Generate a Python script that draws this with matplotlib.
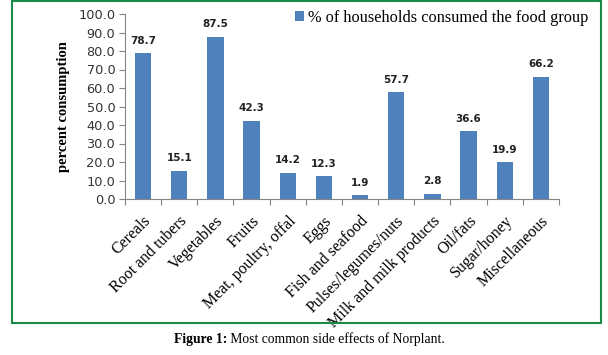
import matplotlib
matplotlib.use('Agg')
import matplotlib.pyplot as plt
import numpy as np
from matplotlib.patches import Rectangle

##### data #####
groups = ["Cereals", "Root and tubers", "Vegetables", "Fruits",
          "Meat, poultry, offal", "Eggs", "Fish and seafood",
          "Pulses/legumes/nuts", "Milk and milk products", "Oil/fats",
          "Sugar/honey", "Miscellaneous"]
pct = [78.7, 15.1, 87.5, 42.3, 14.2, 12.3, 1.9, 57.7, 2.8, 36.6, 19.9, 66.2]
series_name = "% of households consumed the food group"
y_ticks = np.arange(0, 101, 10)
##### data end #####

bar_color = '#4F81BD'
grey = '#868686'
serif = ['Liberation Serif', 'DejaVu Serif']
sans = ['DejaVu Sans']

fig = plt.figure(figsize=(6.08, 3.55), dpi=100)
ax = fig.add_axes([125 / 608, 1 - 199 / 355, 434 / 608, 185 / 355])

x = np.arange(len(groups))
bars = ax.bar(x, pct, width=0.45, color=bar_color, label=series_name, zorder=2)

for xi, v in zip(x, pct):
    ax.annotate("%.1f" % v, (xi, v), xytext=(0, 5.5), textcoords='offset points',
                ha='center', va='bottom', fontsize=7.5, fontweight='bold',
                family=sans, color='#222222')

ax.set_xlim(-0.5, len(groups) - 0.5)
ax.set_ylim(0, 100)
ax.set_yticks(y_ticks)
ax.set_yticklabels(["%.1f" % t for t in y_ticks], family=sans, fontsize=9.3,
                   color='#333333')

# ticks between categories
ax.set_xticks(np.arange(-0.5, len(groups), 1.0))
ax.set_xticklabels([])
ax.set_xticks(x, minor=True)
ax.set_xticklabels(groups, minor=True, rotation=45, ha='right',
                   rotation_mode='anchor', family=serif, fontsize=11.5)
ax.tick_params(axis='x', which='minor', length=0, pad=10)
ax.tick_params(axis='x', which='major', length=4, color=grey, direction='out')
ax.tick_params(axis='y', length=4, color=grey, direction='out', pad=3)

for s in ['top', 'right']:
    ax.spines[s].set_visible(False)
for s in ['left', 'bottom']:
    ax.spines[s].set_color(grey)

ax.set_ylabel("percent consumption", family=serif, fontweight='bold',
              fontsize=10.5)
ax.yaxis.set_label_coords(-0.127, 0.5)

ax.legend(loc='upper left', bbox_to_anchor=(288 / 608, 1 - 3 / 355),
          bbox_transform=fig.transFigure, frameon=False,
          prop={'family': serif, 'size': 11.8}, handlelength=0.55,
          handleheight=0.55, handletextpad=0.3, borderaxespad=0)

# green frame around chart
fig.patches.append(Rectangle((12 / 608, 1 - 323 / 355), 589 / 608, 322 / 355,
                             transform=fig.transFigure, fill=False,
                             edgecolor='#1b8a48', linewidth=1.5))

fig.text(227 / 608, 1 - 339 / 355, "Figure 1:", ha='right', va='center',
         family=serif, fontweight='bold', fontsize=9.8)
fig.text(227 / 608, 1 - 339 / 355, " Most common side effects of Norplant.",
         ha='left', va='center', family=serif, fontsize=9.8)

fig.savefig("out.png", dpi=100)
